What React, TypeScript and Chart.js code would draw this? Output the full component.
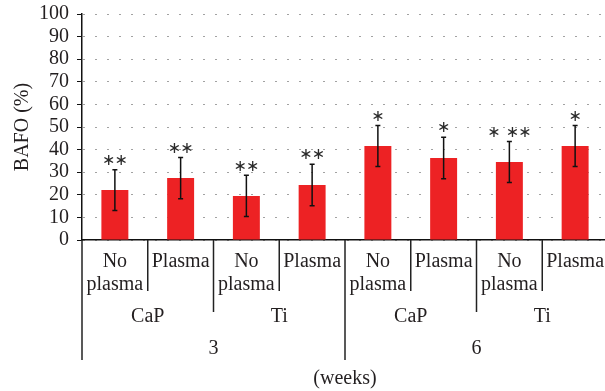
import React, { useEffect, useRef } from 'react';
import { Chart, registerables } from 'chart.js';

Chart.register(...registerables);

const categories: (string | string[])[] = [
  ['No', 'plasma'], 'Plasma', ['No', 'plasma'], 'Plasma',
  ['No', 'plasma'], 'Plasma', ['No', 'plasma'], 'Plasma',
];
const materials = ['CaP', 'Ti', 'CaP', 'Ti'];
const weeks = ['3', '6'];
const meanValues = [22.1, 27.4, 19.5, 24.3, 41.6, 36.3, 34.5, 41.6];
const errorValues = [9.0, 9.1, 9.1, 9.2, 9.1, 9.2, 9.1, 9.1];
const significance = ['**', '**', '**', '**', '*', '*', '* **', '*'];
const yMin = 0;
const yMax = 100;
const yStep = 10;

const FONT = "'Liberation Serif', 'Times New Roman', serif";
const TEXT = '#231f20';

const errorBarPlugin = {
  id: 'errorBars',
  afterDatasetsDraw(chart: any) {
    const ctx = chart.ctx;
    const y = chart.scales.y;
    const meta = chart.getDatasetMeta(0);
    ctx.save();
    meta.data.forEach((el: any, i: number) => {
      const cx = el.x;
      const top = y.getPixelForValue(meanValues[i] + errorValues[i]);
      const bot = y.getPixelForValue(meanValues[i] - errorValues[i]);
      ctx.strokeStyle = '#111';
      ctx.lineWidth = 1.5;
      ctx.beginPath();
      ctx.moveTo(cx, top);
      ctx.lineTo(cx, bot);
      ctx.moveTo(cx - 2.5, top);
      ctx.lineTo(cx + 2.5, top);
      ctx.moveTo(cx - 2.5, bot);
      ctx.lineTo(cx + 2.5, bot);
      ctx.stroke();
      const s = significance[i];
      const steps: number[] = [];
      let pos = 0;
      for (let k = 0; k < s.length; k++) {
        if (s[k] === '*') {
          steps.push(pos);
          pos += 12.5;
        } else {
          pos += 6;
        }
      }
      const span = steps[steps.length - 1];
      ctx.fillStyle = '#2a2a2a';
      ctx.font = "16px 'DejaVu Sans'";
      ctx.textAlign = 'center';
      ctx.textBaseline = 'middle';
      steps.forEach((p) => {
        ctx.fillText('\u2217', cx - span / 2 + p, top - 9);
      });
    });
    ctx.restore();
  },
};

const hierarchyPlugin = {
  id: 'hierarchy',
  afterDraw(chart: any) {
    const ctx = chart.ctx;
    const x = chart.scales.x;
    const n = categories.length;
    const w = x.getPixelForValue(1) - x.getPixelForValue(0);
    const base = chart.chartArea.bottom;
    const perWeek = n / weeks.length;
    const perMat = n / materials.length;
    ctx.save();
    ctx.strokeStyle = '#222';
    ctx.lineWidth = 1.5;
    for (let i = 0; i <= n; i++) {
      const bx = x.getPixelForValue(i) - w / 2;
      const len = i % perWeek === 0 ? 120 : i % perMat === 0 ? 72 : 51;
      ctx.beginPath();
      ctx.moveTo(bx, base);
      ctx.lineTo(bx, base + len);
      ctx.stroke();
    }
    ctx.fillStyle = TEXT;
    ctx.font = `20px ${FONT}`;
    ctx.textAlign = 'center';
    ctx.textBaseline = 'middle';
    materials.forEach((m, j) => {
      const a = x.getPixelForValue(j * perMat) - w / 2;
      const b = x.getPixelForValue((j + 1) * perMat) - w / 2;
      ctx.fillText(m, (a + b) / 2, base + 77);
    });
    weeks.forEach((m, j) => {
      const a = x.getPixelForValue(j * perWeek) - w / 2;
      const b = x.getPixelForValue((j + 1) * perWeek) - w / 2;
      ctx.fillText(m, (a + b) / 2, base + 109);
    });
    ctx.restore();
  },
};

export default function App() {
  const ref = useRef<HTMLCanvasElement | null>(null);
  useEffect(() => {
    if (!ref.current) return;
    const chart = new Chart(ref.current, {
      type: 'bar',
      data: {
        labels: categories as any,
        datasets: [
          {
            data: meanValues,
            backgroundColor: '#ED2224',
            borderWidth: 0,
            categoryPercentage: 1,
            barPercentage: 0.41,
          },
        ],
      },
      options: {
        animation: false,
        responsive: false,
        devicePixelRatio: 1,
        layout: { padding: { top: 14, left: 0, right: 0, bottom: 0 } },
        plugins: { legend: { display: false }, tooltip: { enabled: false } },
        scales: {
          x: {
            grid: { display: false, drawTicks: false },
            border: { display: true, color: '#111', width: 1.5 },
            ticks: {
              autoSkip: false,
              maxRotation: 0,
              minRotation: 0,
              padding: 10,
              color: TEXT,
              font: { family: FONT, size: 20, lineHeight: 1.15 },
            },
            title: {
              display: true,
              text: '(weeks)',
              color: TEXT,
              font: { family: FONT, size: 20, lineHeight: 1.2 },
              padding: { top: 0, bottom: 0 },
            },
            afterFit: (scale: any) => {
              scale.height = 151;
              scale.paddingLeft = 0;
              scale.paddingRight = 0;
            },
          },
          y: {
            min: yMin,
            max: yMax,
            grid: {
              color: '#444',
              lineWidth: 1,
              drawTicks: true,
              tickLength: 5,
              tickColor: '#111',
              tickWidth: 1,
            },
            border: { display: true, color: '#111', width: 1.5, dash: [1, 11], dashOffset: -1 },
            ticks: {
              stepSize: yStep,
              autoSkip: false,
              padding: 8,
              color: TEXT,
              font: { family: FONT, size: 20, lineHeight: 1.2 },
            },
            title: {
              display: true,
              text: 'BAFO (%)',
              color: TEXT,
              font: { family: FONT, size: 20, lineHeight: 1.2 },
              padding: { top: 11, bottom: 0 },
            },
            afterFit: (scale: any) => {
              scale.width = 82;
              scale.paddingTop = 0;
              scale.paddingBottom = 0;
            },
          },
        },
      },
      plugins: [errorBarPlugin, hierarchyPlugin],
    });
    return () => chart.destroy();
  }, []);
  return (
    <div style={{ position: 'absolute', left: 0, top: 0, width: 605, height: 391, overflow: 'hidden', background: '#fff' }}>
      <canvas ref={ref} width={608} height={391} style={{ display: 'block' }} />
    </div>
  );
}
